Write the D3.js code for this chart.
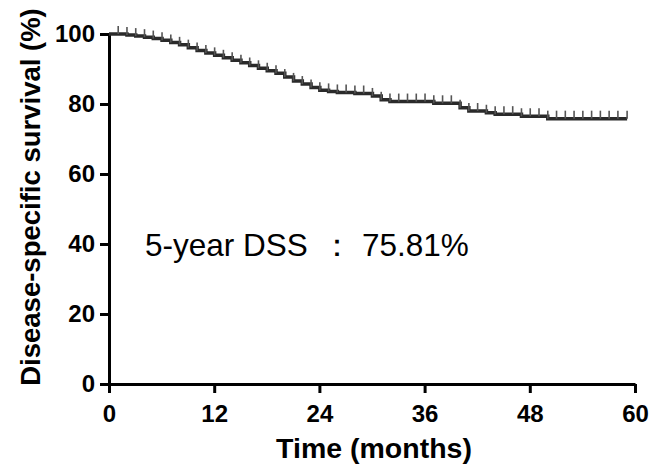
<!DOCTYPE html>
<html>
<head>
<meta charset="utf-8">
<script src="https://cdn.jsdelivr.net/npm/d3@7"></script>
<style>
  body { margin: 0; background: #fff; }
  svg text { font-family: "Liberation Sans", Arial, sans-serif; }
  .axis path, .axis line { stroke: #000; stroke-width: 3px; }
  .axis text { font-size: 24px; font-weight: bold; fill: #000; }
</style>
</head>
<body>
<div id="graphArea"></div>
<script>
// Kaplan-Meier steps (months, survival %)
var stepMonths = [0, 2.05, 3.05, 4.05, 5.05, 6.05, 7.05, 8.05, 9.05, 10.05, 11.05, 12.05, 13.05, 14.05, 15.05,
                  16.05, 17.05, 18.05, 19.05, 20.05, 21.05, 22.05, 23.05, 24.05, 25.05, 26.05, 28.05, 30.05,
                  31.05, 32.05, 37.05, 40.05, 41.05, 43.05, 44.05, 47.05, 50.05];
var survival = [100, 99.7, 99.4, 99.1, 98.7, 98.2, 97.6, 96.9, 96.1, 95.3, 94.6, 93.9, 93.2, 92.5, 91.8,
                91.0, 90.2, 89.5, 88.8, 87.7, 86.6, 85.7, 84.7, 83.9, 83.6, 83.3, 83.0, 82.3,
                81.2, 80.7, 80.2, 78.9, 78.0, 77.5, 77.1, 76.5, 75.81];
var lastMonth = 59.1;
var censorMonths = [1.05, 2.05, 3.05, 4.05, 5.05, 6.05, 7.05, 8.05, 9.05, 10.05, 11.05, 12.05, 13.05, 14.05,
                    15.05, 16.05, 17.05, 18.05, 19.05, 20.05, 21.05, 22.05, 23.05, 24.05, 25.05, 26.05, 27.05,
                    28.05, 29.05, 30.05, 31.05, 32.05, 33.05, 34.05, 35.05, 36.05, 37.05, 38.05, 39.05, 40.05,
                    41.05, 42.05, 43.05, 44.05, 45.05, 46.05, 47.05, 48.05, 49.05, 50.05, 51.05, 52.05, 53.05,
                    54.05, 55.05, 56.05, 57.05, 58.05, 59.1];
var xTicks = [0, 12, 24, 36, 48, 60];
var yTicks = [0, 20, 40, 60, 80, 100];
var note = "5-year DSS";
var noteColon = "\uFF1A";
var noteValue = "75.81%";

function visualize() {
    var w = 653, h = 467;
    var svg = d3.select("#graphArea").append("svg").attr("width", w).attr("height", h);

    var x = d3.scaleLinear().domain([0, 60]).range([109, 635]);
    var y = d3.scaleLinear().domain([0, 100]).range([384, 34]);

    var xAxis = d3.axisBottom(x).tickValues(xTicks).tickSize(9).tickSizeOuter(0).tickPadding(12);
    var yAxis = d3.axisLeft(y).tickValues(yTicks).tickSize(9).tickSizeOuter(0).tickPadding(5);

    svg.append("g").attr("class", "axis").attr("transform", "translate(0,384)").call(xAxis);
    svg.append("g").attr("class", "axis").attr("transform", "translate(109,0)").call(yAxis);

    // survival curve as a step line
    var pts = stepMonths.map((m, i) => [m, survival[i]]);
    pts.push([lastMonth, survival[survival.length - 1]]);
    var line = d3.line().x(d => x(d[0])).y(d => y(d[1])).curve(d3.curveStepAfter);
    svg.append("path")
        .datum(pts)
        .attr("d", line)
        .attr("fill", "none")
        .attr("stroke", "#2a2a2a")
        .attr("stroke-width", 3.5);

    // censor marks
    function survAt(m) {
        var s = 100;
        stepMonths.forEach((t, i) => { if (t <= m) s = survival[i]; });
        return s;
    }
    svg.selectAll(".censor")
        .data(censorMonths)
        .enter()
        .append("line")
        .attr("class", "censor")
        .attr("x1", d => x(d))
        .attr("x2", d => x(d))
        .attr("y1", d => y(survAt(d)))
        .attr("y2", d => y(survAt(d)) - 8)
        .attr("stroke", "#555")
        .attr("stroke-width", 1.6);

    svg.append("text")
        .attr("x", 374)
        .attr("y", 458)
        .style("text-anchor", "middle")
        .style("font-size", "28.5px")
        .style("font-weight", "bold")
        .text("Time (months)");

    svg.append("text")
        .attr("transform", "rotate(-90)")
        .attr("x", -197)
        .attr("y", 40)
        .style("text-anchor", "middle")
        .style("font-size", "27.5px")
        .style("font-weight", "bold")
        .text("Disease-specific survival (%)");

    var t = svg.append("text")
        .attr("y", 256)
        .style("font-size", "31.5px");
    t.append("tspan").attr("x", 145).text(note);
    t.append("tspan").attr("x", 321).text(noteColon);
    t.append("tspan").attr("x", 362).text(noteValue);
}

document.addEventListener('DOMContentLoaded', () => {
    visualize();
});
</script>
</body>
</html>
